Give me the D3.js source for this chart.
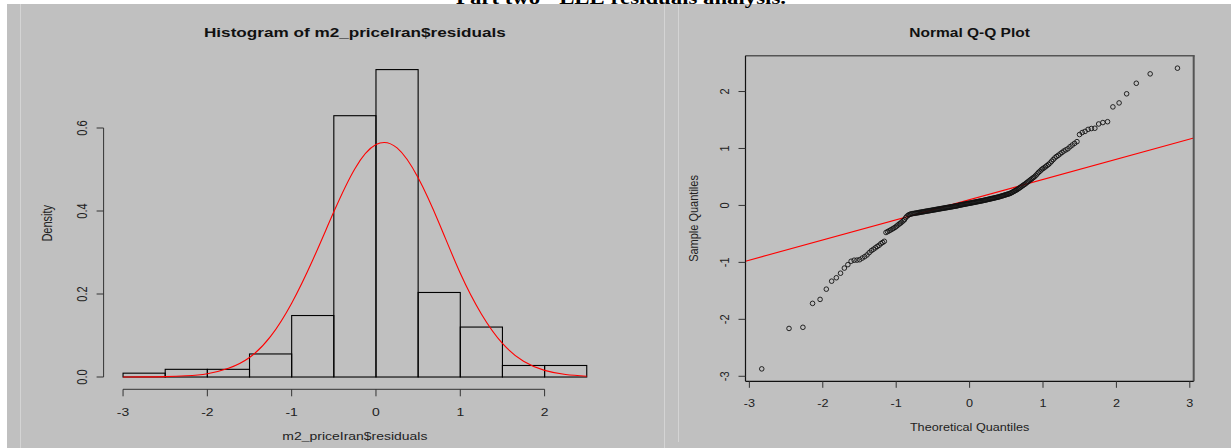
<!DOCTYPE html>
<html>
<head>
<meta charset="utf-8">
<script src="https://cdn.jsdelivr.net/npm/d3@7"></script>
<style>
  html, body { margin: 0; padding: 0; background: #ffffff; }
  svg { display: block; font-family: "Liberation Sans", Arial, sans-serif; }
</style>
</head>
<body>
<svg id="chart" width="1231" height="448"></svg>
<script>
// Residuals of the m2 price model (sorted), n = 216
const residuals = [
  -2.87, -2.16, -2.14, -1.72, -1.65, -1.47, -1.33, -1.27, -1.19, -1.10,
  -1.04, -0.98, -0.962, -0.96, -0.953, -0.925, -0.90, -0.87, -0.83, -0.795,
  -0.77, -0.745, -0.72, -0.70, -0.67, -0.65, -0.63, -0.475, -0.46, -0.445,
  -0.43, -0.415, -0.40, -0.385, -0.365, -0.345, -0.325, -0.31, -0.29, -0.27,
  -0.25, -0.215, -0.19, -0.172, -0.16, -0.152, -0.147, -0.143, -0.140, -0.137,
  -0.133, -0.130, -0.126, -0.123, -0.119, -0.116, -0.113, -0.110, -0.106, -0.103,
  -0.100, -0.097, -0.094, -0.091, -0.088, -0.085, -0.082, -0.079, -0.076, -0.073,
  -0.070, -0.067, -0.064, -0.061, -0.058, -0.055, -0.053, -0.050, -0.047, -0.044,
  -0.042, -0.039, -0.036, -0.033, -0.031, -0.028, -0.025, -0.023, -0.020, -0.017,
  -0.014, -0.012, -0.009, -0.006, -0.003,
  0.002, 0.005, 0.008, 0.011, 0.014, 0.017, 0.020, 0.023, 0.026, 0.029,
  0.032, 0.035, 0.038, 0.040, 0.042, 0.046, 0.049, 0.052, 0.055, 0.058,
  0.061, 0.064, 0.067, 0.070, 0.073, 0.076, 0.079, 0.082, 0.085, 0.088,
  0.092, 0.095, 0.099, 0.102, 0.106, 0.109, 0.113, 0.117, 0.120, 0.124,
  0.127, 0.131, 0.135, 0.139, 0.142, 0.146, 0.150, 0.155, 0.160, 0.165,
  0.170, 0.175, 0.180, 0.186, 0.191, 0.196, 0.201, 0.207, 0.213, 0.223,
  0.232, 0.242, 0.252, 0.262, 0.272, 0.283, 0.296, 0.309, 0.322, 0.336,
  0.350, 0.364, 0.377, 0.393, 0.409, 0.424, 0.441, 0.457, 0.474, 0.490,
  0.507, 0.53, 0.555, 0.58, 0.60, 0.625, 0.645, 0.66, 0.68, 0.70,
  0.72, 0.745, 0.775, 0.805, 0.835, 0.86, 0.88, 0.905, 0.93, 0.955,
  0.975, 0.995, 1.03, 1.06, 1.09, 1.12, 1.245, 1.28, 1.30, 1.335,
  1.35, 1.355, 1.43, 1.455, 1.47, 1.73, 1.80, 1.96, 2.145, 2.31, 2.41
];

// Histogram bin edges and axis ticks
const histBreaks = [-3, -2.5, -2, -1.5, -1, -0.5, 0, 0.5, 1, 1.5, 2, 2.5];
const histTicksX = [-3, -2, -1, 0, 1, 2];
const histTicksY = [0, 0.2, 0.4, 0.6];

// Fitted normal density overlaid on the histogram
const densityX = [-3, -2.75, -2.5, -2.25, -2, -1.75, -1.5, -1.25, -1, -0.75, -0.5, -0.25,
                  0, 0.25, 0.5, 0.75, 1, 1.25, 1.5, 1.75, 2, 2.25, 2.5];
const densityY = [0.0001, 0.0003, 0.001, 0.003, 0.008, 0.021, 0.047, 0.098, 0.178, 0.282, 0.398, 0.502,
                  0.560, 0.552, 0.480, 0.370, 0.250, 0.152, 0.081, 0.038, 0.016, 0.006, 0.002];

// Q-Q plot ticks and reference line
const qqTicksX = [-3, -2, -1, 0, 1, 2, 3];
const qqTicksY = [-3, -2, -1, 0, 1, 2];
const qqLineIntercept = 0.102;
const qqLineSlope = 0.354;

const titles = ["Histogram of m2_priceIran$residuals", "Normal Q-Q Plot"];
const axisLabels = ["m2_priceIran$residuals", "Density", "Theoretical Quantiles", "Sample Quantiles"];
const heading = "Part two - LLE residuals analysis.";

// Inverse standard normal CDF (Acklam's rational approximation)
function qnorm(p) {
  const a = [-3.969683028665376e+01, 2.209460984245205e+02, -2.759285104469687e+02,
             1.383577518672690e+02, -3.066479806614716e+01, 2.506628277459239e+00];
  const b = [-5.447609879822406e+01, 1.615858368580409e+02, -1.556989798598866e+02,
             6.680131188771972e+01, -1.328068155288572e+01];
  const c = [-7.784894002430293e-03, -3.223964580411365e-01, -2.400758277161838e+00,
             -2.549732539343734e+00, 4.374664141464968e+00, 2.938163982698783e+00];
  const d = [7.784695709041462e-03, 3.224671290700398e-01, 2.445134137142996e+00,
             3.754408661907416e+00];
  const pl = 0.02425, ph = 1 - pl;
  let q, r;
  if (p < pl) {
    q = Math.sqrt(-2 * Math.log(p));
    return (((((c[0]*q+c[1])*q+c[2])*q+c[3])*q+c[4])*q+c[5]) / ((((d[0]*q+d[1])*q+d[2])*q+d[3])*q+1);
  }
  if (p <= ph) {
    q = p - 0.5; r = q * q;
    return (((((a[0]*r+a[1])*r+a[2])*r+a[3])*r+a[4])*r+a[5])*q / (((((b[0]*r+b[1])*r+b[2])*r+b[3])*r+b[4])*r+1);
  }
  q = Math.sqrt(-2 * Math.log(1 - p));
  return -(((((c[0]*q+c[1])*q+c[2])*q+c[3])*q+c[4])*q+c[5]) / ((((d[0]*q+d[1])*q+d[2])*q+d[3])*q+1);
}

const svg = d3.select("#chart");
const BG = "#c0c0c0";
const FONT = 11;
const INK = "#222";

// Text helper: both panels are rendered slightly wider than tall
function label(g, x, y, str, opts = {}) {
  const sx = opts.sx || 1;
  const rot = opts.rotate ? " rotate(-90)" : "";
  return g.append("text")
    .attr("transform", `translate(${x},${y}) scale(${sx},1)${rot}`)
    .attr("text-anchor", "middle")
    .attr("font-size", opts.size || FONT)
    .attr("font-weight", opts.bold ? "bold" : null)
    .attr("fill", opts.fill || INK)
    .text(str);
}

// Page background and panel frame
svg.append("rect").attr("x", 7).attr("y", 4).attr("width", 1224).attr("height", 444).attr("fill", BG);
svg.append("line").attr("x1", 20.5).attr("x2", 20.5).attr("y1", 4).attr("y2", 448).attr("stroke", "#d4d4d4");
svg.append("line").attr("x1", 664.5).attr("x2", 664.5).attr("y1", 4).attr("y2", 448).attr("stroke", "#d4d4d4");
svg.append("line").attr("x1", 678.5).attr("x2", 678.5).attr("y1", 4).attr("y2", 442).attr("stroke", "#d4d4d4");

// ---------- Histogram panel ----------
const SX_L = 1.27;
const n = residuals.length;
const binWidth = histBreaks[1] - histBreaks[0];
const bins = d3.bin()
  .domain([histBreaks[0], histBreaks[histBreaks.length - 1]])
  .thresholds(histBreaks.slice(1, -1))(residuals);
const dens = bins.map(b => ({ x0: b.x0, x1: b.x1, d: b.length / (n * binWidth) }));

const xH = d3.scaleLinear().domain([-3.22, 2.72]).range([104.5, 605.3]);
const yH = d3.scaleLinear().domain([-0.0296, 0.7706]).range([389.3, 57.2]);

const gH = svg.append("g");
gH.selectAll("rect.bar").data(dens).join("rect")
  .attr("class", "bar")
  .attr("x", d => xH(d.x0))
  .attr("y", d => yH(d.d))
  .attr("width", d => xH(d.x1) - xH(d.x0))
  .attr("height", d => yH(0) - yH(d.d))
  .attr("fill", "none")
  .attr("stroke", "#000")
  .attr("stroke-width", 1.1);

gH.append("path")
  .datum(densityX.map((x, i) => [x, densityY[i]]))
  .attr("d", d3.line().x(d => xH(d[0])).y(d => yH(d[1])).curve(d3.curveNatural))
  .attr("fill", "none")
  .attr("stroke", "#ff0000")
  .attr("stroke-width", 1.1);

// x axis
const hAxisY = yH.range()[0];
gH.append("line")
  .attr("x1", xH(histTicksX[0])).attr("x2", xH(histTicksX[histTicksX.length - 1]))
  .attr("y1", hAxisY).attr("y2", hAxisY).attr("stroke", "#333");
gH.selectAll("line.xt").data(histTicksX).join("line").attr("class", "xt")
  .attr("x1", d => xH(d)).attr("x2", d => xH(d))
  .attr("y1", hAxisY).attr("y2", hAxisY + 7).attr("stroke", "#333");
histTicksX.forEach(t => label(gH, xH(t), 416, d3.format("d")(t).replace("−", "-"), { sx: SX_L }));

// y axis
const hAxisX = xH.range()[0] - 0.9;
gH.append("line")
  .attr("x1", hAxisX).attr("x2", hAxisX)
  .attr("y1", yH(histTicksY[0])).attr("y2", yH(histTicksY[histTicksY.length - 1])).attr("stroke", "#333");
gH.selectAll("line.yt").data(histTicksY).join("line").attr("class", "yt")
  .attr("x1", hAxisX - 7).attr("x2", hAxisX)
  .attr("y1", d => yH(d)).attr("y2", d => yH(d)).attr("stroke", "#333");
histTicksY.forEach(t => label(gH, 87, yH(t), d3.format(".1f")(t), { sx: SX_L, rotate: true }));

label(gH, d3.mean(xH.range()), 37, titles[0], { sx: SX_L, size: 13.5, bold: true, fill: "#111" });
label(gH, d3.mean(xH.range()), 440, axisLabels[0], { sx: SX_L });
label(gH, 52, d3.mean(yH.range()), axisLabels[1], { sx: SX_L, rotate: true });

// ---------- Normal Q-Q panel ----------
const SX_R = 1.15;
const xQ = d3.scaleLinear().domain([-3.053, 3.053]).range([745.5, 1193.7]);
const yQ = d3.scaleLinear().domain([-3.088, 2.629]).range([381.3, 55.7]);
const qqPts = residuals.slice().sort(d3.ascending)
  .map((y, i) => ({ x: qnorm((i + 1 - 0.5) / n), y }));

const gQ = svg.append("g");
const [bx0, bx1] = xQ.range();
const [by1, by0] = yQ.range();

// reference line, clipped to plot region
gQ.append("clipPath").attr("id", "qqclip")
  .append("rect").attr("x", bx0).attr("y", by0).attr("width", bx1 - bx0).attr("height", by1 - by0);
const xd = xQ.domain();
gQ.append("line")
  .attr("clip-path", "url(#qqclip)")
  .attr("x1", xQ(xd[0])).attr("y1", yQ(qqLineIntercept + qqLineSlope * xd[0]))
  .attr("x2", xQ(xd[1])).attr("y2", yQ(qqLineIntercept + qqLineSlope * xd[1]))
  .attr("stroke", "#ff0000").attr("stroke-width", 1.1);

gQ.selectAll("circle").data(qqPts).join("circle")
  .attr("cx", d => xQ(d.x)).attr("cy", d => yQ(d.y)).attr("r", 2.3)
  .attr("fill", "none").attr("stroke", "#111").attr("stroke-width", 0.9);

// box: top and right edges render in dark grey
gQ.append("line").attr("x1", bx0).attr("x2", bx1 + 1).attr("y1", by0).attr("y2", by0).attr("stroke", "#555").attr("stroke-width", 1.6);
gQ.append("line").attr("x1", bx1).attr("x2", bx1).attr("y1", by0).attr("y2", by1).attr("stroke", "#555").attr("stroke-width", 2);
gQ.append("line").attr("x1", bx0).attr("x2", bx0).attr("y1", by0).attr("y2", by1).attr("stroke", "#111").attr("stroke-width", 1.2);
gQ.append("line").attr("x1", bx0).attr("x2", bx1).attr("y1", by1).attr("y2", by1).attr("stroke", "#111").attr("stroke-width", 1.2);

gQ.selectAll("line.xt").data(qqTicksX).join("line").attr("class", "xt")
  .attr("x1", d => xQ(d)).attr("x2", d => xQ(d))
  .attr("y1", by1).attr("y2", by1 + 6.5).attr("stroke", "#333");
qqTicksX.forEach(t => label(gQ, xQ(t), 407, String(t), { sx: SX_R }));
gQ.selectAll("line.yt").data(qqTicksY).join("line").attr("class", "yt")
  .attr("x1", bx0 - 7).attr("x2", bx0)
  .attr("y1", d => yQ(d)).attr("y2", d => yQ(d)).attr("stroke", "#333");
qqTicksY.forEach(t => label(gQ, 729, yQ(t), String(t), { sx: SX_R, rotate: true }));

label(gQ, d3.mean(xQ.range()), 37, titles[1], { sx: SX_R, size: 13.5, bold: true, fill: "#111" });
label(gQ, d3.mean(xQ.range()), 431, axisLabels[2], { sx: SX_R });
label(gQ, 698, d3.mean(yQ.range()), axisLabels[3], { sx: SX_R, rotate: true });

// Document heading, cut off at the top edge of the page
svg.append("text")
  .attr("transform", "translate(621,3.5) scale(1.2,1)")
  .attr("text-anchor", "middle")
  .attr("font-family", "'Liberation Serif', 'Times New Roman', serif")
  .attr("font-size", 19).attr("font-weight", "bold").attr("fill", "#000")
  .text(heading);
</script>
</body>
</html>
